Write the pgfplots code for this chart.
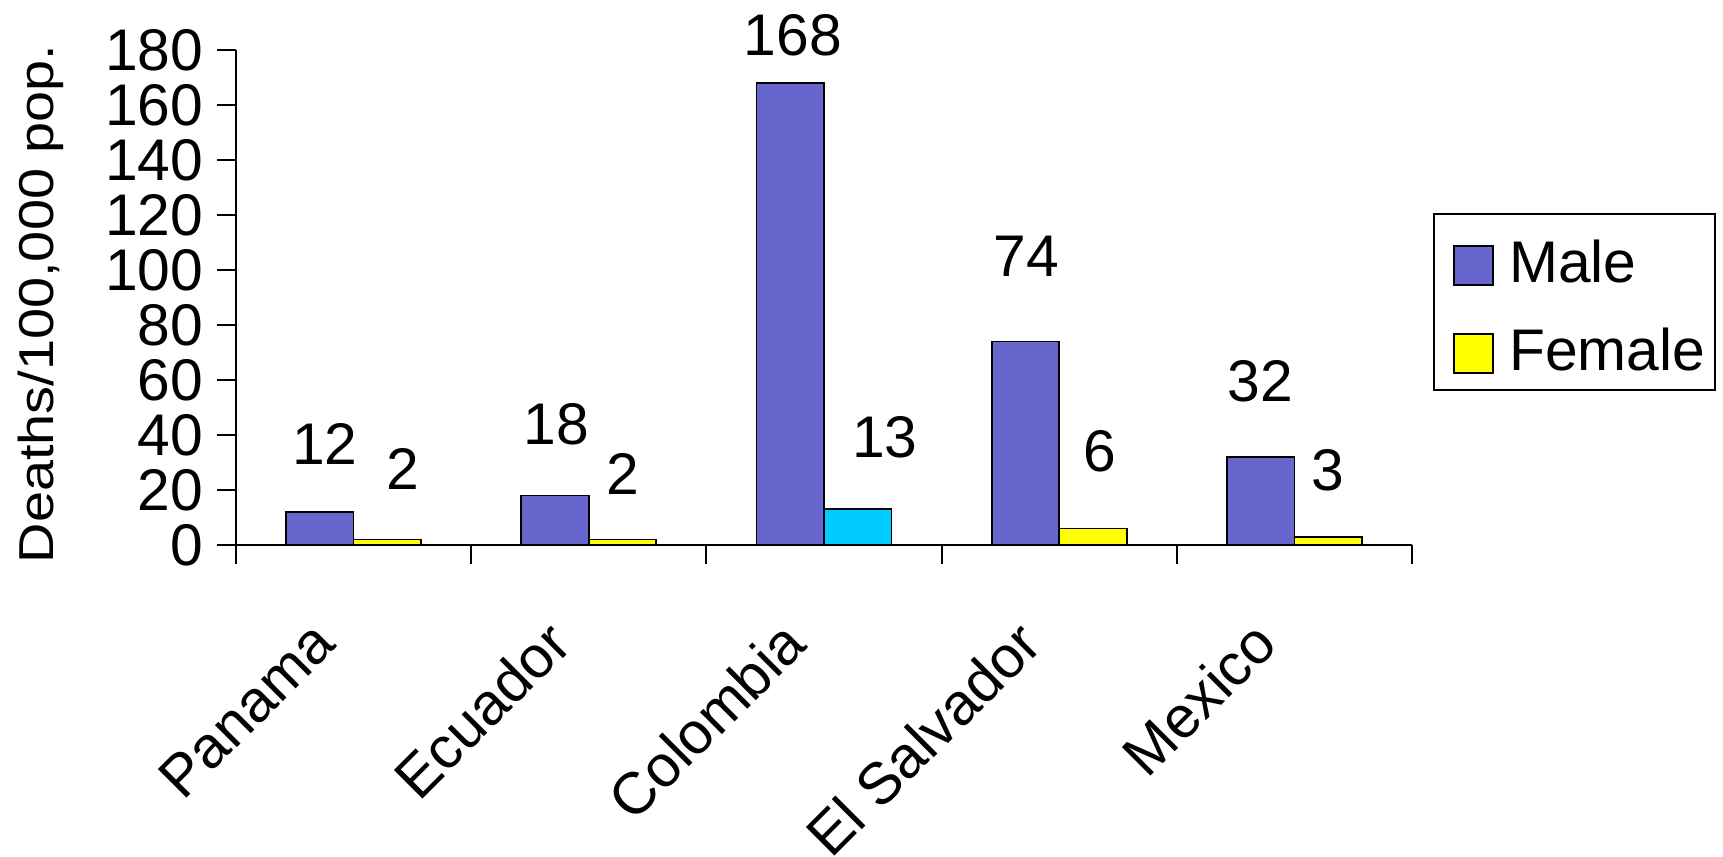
\documentclass[border=0pt]{standalone}
\usepackage{fontspec}
\setmainfont{Liberation Sans}
\usepackage{graphicx}
\usepackage{pgfplots}
\usepackage{pgfplotstable}
\pgfplotsset{compat=1.18}

\definecolor{malec}{RGB}{102,102,204}
\definecolor{femalec}{RGB}{255,255,0}
\definecolor{femalehi}{RGB}{0,204,255}

\newcommand{\bigfont}{\fontsize{23.5}{28}\selectfont}

% x = category index, y = rate, dx/dy = label offset (pt) from bar top
\pgfplotstableread{
x y dx dy
0 12 2 27.2
1 18 0.6 28.4
2 168 1 19.2
3 74 0.4 34
4 32 0 30.4
}\male

\pgfplotstableread{
x y dx dy
0 2 6.2 28.2
1 2 0 26
3 6 2.6 30.8
4 3 0 26.4
}\female

\pgfplotstableread{
x y dx dy
2 13 10.8 28.8
}\femalehighlight

\begin{document}
\begin{tikzpicture}
\begin{axis}[
  scale only axis,
  width=470.4pt, height=198pt,
  xmin=-0.5, xmax=4.5, ymin=0, ymax=180,
  axis lines*=left,
  axis line style={line width=0.8pt},
  ybar,
  bar width=27pt,
  ytick={0,20,...,180},
  xtick={-0.5,0.5,...,4.5},
  xticklabels={Panama,Ecuador,Colombia,El Salvador,Mexico},
  x tick label as interval,
  tick align=outside,
  major tick length=7.6pt,
  tick style={line width=0.8pt, black},
  /pgf/number format/assume math mode=true,
  ticklabel style={font=\bigfont},
  yticklabel style={xshift=-2pt},
  xticklabel style={xshift=-9.4pt, yshift=-25pt, rotate=45, anchor=east},
  ylabel={\scalebox{1.14}[1]{Deaths/100,000 pop.}},
  ylabel style={font=\fontsize{19.6}{23}\selectfont, at={(axis description cs:-0.1662,0.487)}, anchor=center},
  legend style={at={(1.0179,0.6713)}, anchor=north west, draw=black, line width=0.8pt,
    font=\bigfont, inner xsep=7.6pt, inner ysep=6.1pt, row sep=12.2pt,
    nodes={inner sep=0pt, text height=21.6pt, text depth=0pt}},
  legend image code/.code={%
    \draw[#1, draw=black, line width=0.8pt] (0pt,-11.8pt) rectangle (15.6pt,3.8pt);
    \path[draw=none, fill=none] (0pt,-4pt) -- (22.1pt,-4pt);},
  legend cell align=left,
  every node near coord/.append style={font=\bigfont, text=black, anchor=center},
]
\addplot[fill=malec, draw=black, line width=0.7pt, bar shift=-13.5pt,
  nodes near coords,
  visualization depends on={\thisrow{dx} \as \labdx},
  visualization depends on={\thisrow{dy} \as \labdy},
  nodes near coords style={xshift=\labdx pt, yshift=\labdy pt}]
  table[x=x, y=y] {\male};
\addlegendentry{Male}

\addplot[fill=femalec, draw=black, line width=0.7pt, bar shift=13.5pt,
  nodes near coords,
  visualization depends on={\thisrow{dx} \as \labdx},
  visualization depends on={\thisrow{dy} \as \labdy},
  nodes near coords style={xshift=\labdx pt, yshift=\labdy pt}]
  table[x=x, y=y] {\female};
\addlegendentry{Female\hspace*{-3.8pt}}

\addplot[fill=femalehi, draw=black, line width=0.7pt, bar shift=13.5pt, forget plot,
  nodes near coords,
  visualization depends on={\thisrow{dx} \as \labdx},
  visualization depends on={\thisrow{dy} \as \labdy},
  nodes near coords style={xshift=\labdx pt, yshift=\labdy pt}]
  table[x=x, y=y] {\femalehighlight};

\coordinate (bbsw) at (rel axis cs:-0.2007,-0.6303);
\coordinate (bbne) at (rel axis cs:1.2645,1.101);
\end{axis}
\pgfresetboundingbox
\path (bbsw) rectangle (bbne);
\end{tikzpicture}
\end{document}
